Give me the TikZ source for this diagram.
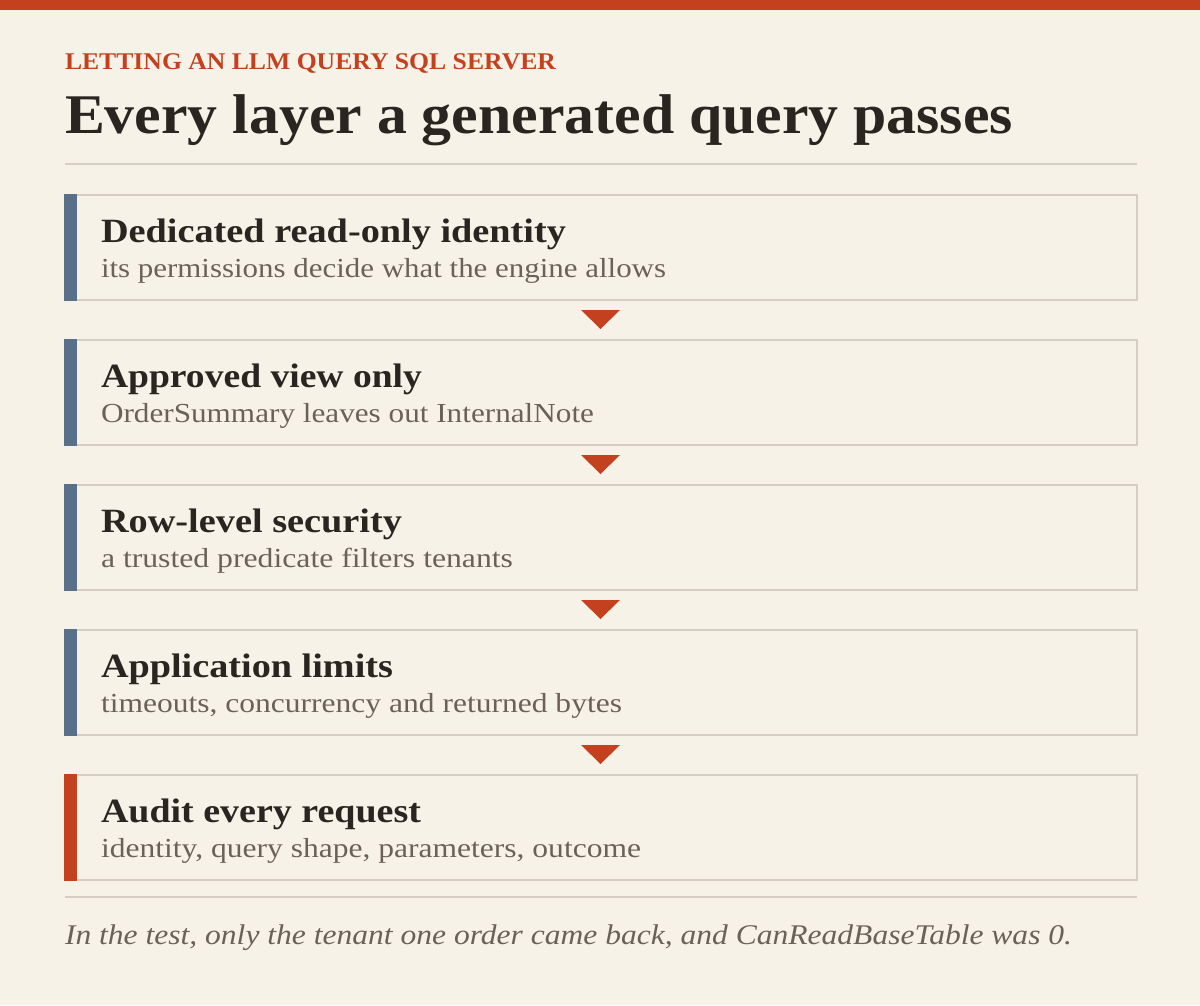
\documentclass[tikz,border=0pt]{standalone}
\usepackage{fontspec}
\setmainfont{Liberation Serif}
\usepackage{graphicx}
\usetikzlibrary{calc}
\definecolor{bgc}{HTML}{F7F2E8}
\definecolor{redc}{HTML}{C4411F}
\definecolor{bluec}{HTML}{587189}
\definecolor{rulec}{HTML}{D6CEC2}
\definecolor{darkc}{HTML}{2A2520}
\definecolor{grayc}{HTML}{6A6258}
\newsavebox\fitbox
\newlength\fitlen
\newcommand\fitw[2]{\sbox\fitbox{#2}\setlength\fitlen{\wd\fitbox}\pgfmathsetmacro\fitsx{#1/\fitlen}\scalebox{\fitsx}[1]{\usebox\fitbox}}
\tikzset{
  txt/.style={anchor=base west, inner sep=0pt, outer sep=0pt},
  layerbox/.style={draw=rulec, line width=2pt, fill=bgc, minimum width=1072pt, minimum height=105pt, inner sep=0pt, outer sep=0pt},
  hrule/.style={draw=rulec, line width=2pt},
  ltitle/.style={txt, text=darkc, font=\fontsize{34}{38}\selectfont\bfseries},
  lsub/.style={txt, text=grayc, font=\fontsize{27.5}{31}\selectfont},
  flow/.style={fill=redc},
}
\begin{document}
\begin{tikzpicture}[x=1pt,y=-1pt]
\useasboundingbox (0,0) rectangle (1200,1005);
\fill[bgc] (0,0) rectangle (1200,1005);
\fill[redc] (0,0) rectangle (1200,10);
% header
\node[txt, text=redc, font=\fontsize{24}{27}\selectfont\bfseries] (kicker) at (65,69) {\fitw{491}{LETTING AN LLM QUERY SQL SERVER}};
\node[txt, text=darkc, font=\fontsize{56}{62}\selectfont\bfseries] (title) at (65,133) {\fitw{948}{Every layer a generated query passes}};
\coordinate (s1a) at (65,164); \coordinate (s1b) at (1137,164);
\draw[hrule] (s1a) -- (s1b);
% boxes
\foreach \i/\y/\c in {1/247.5/bluec,2/392.5/bluec,3/537.5/bluec,4/682.5/bluec,5/827.5/redc}{
  \node[layerbox] (b\i) at (601,\y) {};
  \fill[\c] ([shift={(-1,-1)}]b\i.north west) rectangle ([shift={(12,1)}]b\i.south west);
}
\node[ltitle] (t1) at (101,242) {\fitw{465}{Dedicated read-only identity}};
\node[lsub] (u1) at (101,277) {\fitw{565}{its permissions decide what the engine allows}};
\node[ltitle] (t2) at (101,387) {\fitw{321}{Approved view only}};
\node[lsub] (u2) at (101,422) {\fitw{493}{OrderSummary leaves out InternalNote}};
\node[ltitle] (t3) at (101,532) {\fitw{301}{Row-level security}};
\node[lsub] (u3) at (101,567) {\fitw{412}{a trusted predicate filters tenants}};
\node[ltitle] (t4) at (101,677) {\fitw{292}{Application limits}};
\node[lsub] (u4) at (101,712) {\fitw{521}{timeouts, concurrency and returned bytes}};
\node[ltitle] (t5) at (101,822) {\fitw{320}{Audit every request}};
\node[lsub] (u5) at (101,857) {\fitw{540}{identity, query shape, parameters, outcome}};
% connectors (triangles)
\foreach \a/\b in {1/2,2/3,3/4,4/5}{
  \fill[flow] ($(b\a.south)+(-20,10)$) -- ($(b\a.south)+(19,10)$) -- ($(b\b.north)+(-0.5,-11)$) -- cycle;
}
% footer
\coordinate (s2a) at (65,897); \coordinate (s2b) at (1137,897);
\draw[hrule] (s2a) -- (s2b);
\node[txt, text=grayc, font=\fontsize{28.5}{31}\selectfont\itshape] (cap) at (65,944) {\fitw{1007}{In the test, only the tenant one order came back, and CanReadBaseTable was 0.}};
\end{tikzpicture}
\end{document}
